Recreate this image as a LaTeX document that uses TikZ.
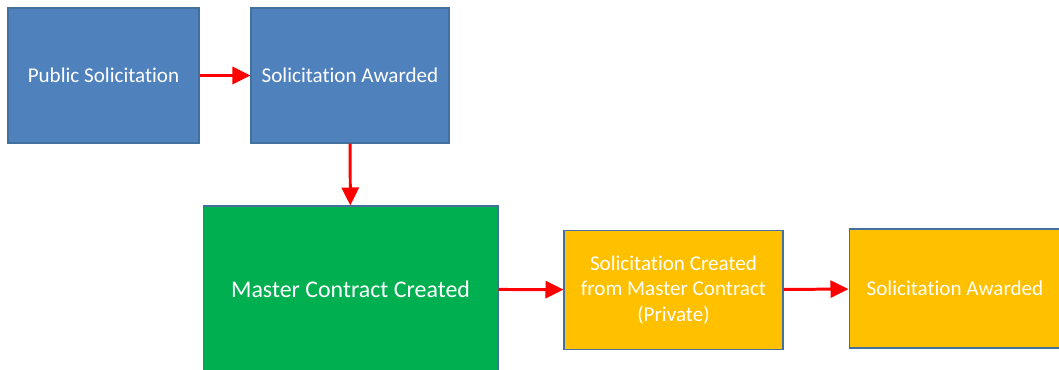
\documentclass[tikz,border=0pt]{standalone}
\usepackage{fontspec}
\setmainfont{Carlito}[Ligatures=NoCommon]
\usetikzlibrary{arrows.meta}
\definecolor{stageblue}{HTML}{4F81BD}
\definecolor{stagegreen}{HTML}{00B050}
\definecolor{stagegold}{HTML}{FFC000}
\definecolor{edgeline}{HTML}{41719C}
\definecolor{flowred}{HTML}{FF0000}
\tikzset{
  flow/.style={
    -{Triangle[length=3.6mm,width=3.4mm]},
    draw=flowred,
    line width=1.7pt
  },
  stage/.style={
    draw=edgeline,
    line width=0.6pt,
    text=white,
    align=center,
    inner sep=2pt,
    font=\fontsize{12}{14.5}\selectfont
  },
  public/.style={
    stage,
    fill=stageblue
  },
  master/.style={
    stage,
    fill=stagegreen,
    font=\fontsize{13.6}{16}\selectfont
  },
  private/.style={
    stage,
    fill=stagegold
  }
}

\begin{document}
\begin{tikzpicture}[x=0.02cm,y=-0.02cm]
  \useasboundingbox (0,0) rectangle (1059,369);
  \clip (0,0) rectangle (1059,369);

  \node[public,minimum width=3.82cm,minimum height=2.70cm]
    (pub-solicit) at (103.5,75.5) {Public Solicitation};
  \node[public,minimum width=3.96cm,minimum height=2.70cm]
    (pub-award) at (350,75.5) {Solicitation Awarded};
  \node[master,minimum width=5.90cm,minimum height=3.32cm]
    (master) at (350.5,289) {Master Contract Created};
  \node[private,minimum width=4.38cm,minimum height=2.38cm]
    (priv-solicit) at (673.5,290) {Solicitation Created\\from Master Contract\\(Private)};
  \node[private,minimum width=4.24cm,minimum height=2.38cm]
    (priv-award) at (955,288.5) {Solicitation Awarded};

  \draw[flow] (pub-solicit) -- (pub-award);
  \draw[flow] (pub-award) -- (master);
  \draw[flow] (master) -- (priv-solicit);
  \draw[flow] (priv-solicit) -- (priv-award);
\end{tikzpicture}
\end{document}
